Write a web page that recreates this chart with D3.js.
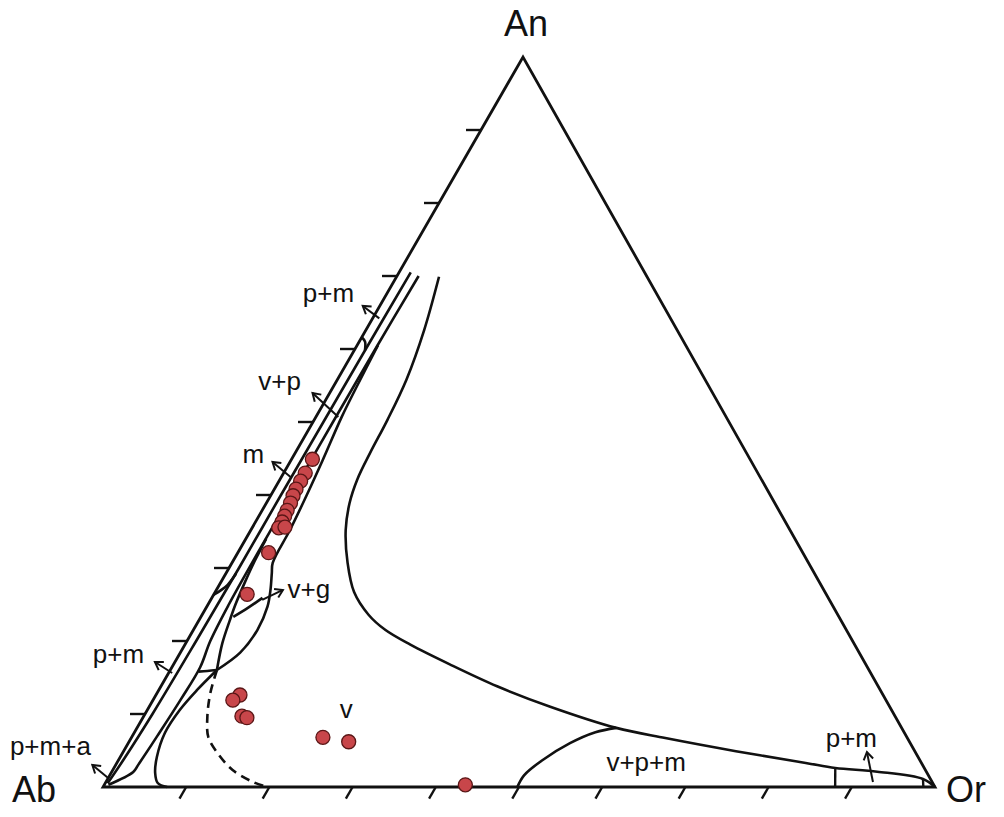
<!DOCTYPE html>
<html lang="en">
<head>
<meta charset="UTF-8">
<title>An-Ab-Or</title>
<style>
  body { margin: 0; background: #fff; }
  svg text { font-family: "Liberation Sans", Arial, sans-serif; fill: #111; }
</style>
</head>
<body>
<svg></svg>
<script src="https://d3js.org/d3.v7.min.js"></script>
<script>
// end members and tick values (mol %)
const corners = ["Ab", "Or", "An"];
const tickValues = [10, 20, 30, 40, 50, 60, 70, 80, 90];

// feldspar analyses as [An, Or]
const samples = [
  [44.9, 2.5], [43.0, 2.6], [41.9, 2.6], [40.8, 2.6], [39.9, 2.7], [38.9, 2.9],
  [37.9, 3.0], [37.1, 3.1], [36.3, 3.2], [35.5, 3.2], [35.6, 3.9], [32.1, 3.7],
  [26.4, 4.0], [12.6, 10.1], [11.9, 9.6], [9.7, 11.8], [9.5, 12.5],
  [6.8, 23.0], [6.2, 26.4], [0.3, 43.4]
];

// field boundaries as [An, Or]
const solvus = [
  [69.9, 5.1], [62.6, 7.0], [55.8, 8.3], [50.3, 8.8], [45.8, 9.0], [42.1, 9.3],
  [38.9, 10.0], [35.2, 11.4], [30.7, 13.9], [26.7, 16.7], [23.6, 20.0], [21.5, 23.1],
  [19.5, 27.1], [16.8, 33.2], [13.8, 40.4], [11.0, 48.2], [8.1, 57.6], [6.7, 64.2],
  [4.9, 73.6], [3.3, 82.8], [2.6, 86.7], [2.1, 92.0], [1.1, 98.0], [0, 100]
];
const vpmLine = [[0, 49.8], [1.6, 49.8], [3.6, 50.9], [6.0, 53.1], [7.5, 55.4], [8.1, 57.6]];
const orSide1 = [[2.6, 86.7], [0, 88.0]];
const orSide2 = [[1.1, 98.0], [0, 98.6]];

const plagLine1 = [[70.5, 1.4], [60, 1.3], [50, 1.25], [40, 1.2], [30, 1.2], [20, 1.1], [10, 0.9], [4, 0.6], [0.5, 0.3]];
const plagLine2 = [[70, 2.6], [60, 2.45], [50, 2.4], [40, 2.4], [33, 2.4], [25, 2.5], [20, 2.8], [16.4, 3.4],
  [12, 3.3], [7, 3.0], [3, 2.7], [2.05, 2.6], [0.3, 0.5]];
const meltLine = [[60.5, 2.5], [55, 2.8], [50.7, 3.1], [44.8, 3.8], [40, 4.3], [35.2, 4.7], [30.7, 4.9],
  [29.3, 5.5], [27, 6.5], [24.7, 7.3], [21.5, 7.7], [18.4, 7.2], [16.03, 5.6]];
const lensLeft = [[16.03, 5.6], [19.7, 4.4], [22.9, 3.7], [25, 3.3], [28, 2.9], [31, 2.6], [34, 2.45]];
const lensWedge = [[23.3, 3.9], [24.5, 5.0], [25.9, 6.1]];
const joinLine = [[16.03, 5.6], [15.9, 4.5], [15.8, 3.5]];
const arcLow = [[26.3, 0], [27.0, 0.6], [27.7, 1.0], [29.2, 1.25]];
const arcHigh = [[61.6, 0], [61.0, 0.7], [59.8, 1.3]];
const vapourLine = [[16.03, 5.6], [13.29, 4.6], [10.55, 3.9], [7.4, 3.7], [4.11, 4.4], [1.92, 5.3], [0.55, 6.3], [0, 7.7]];
const dashedLine = [[16.03, 5.6], [12.88, 6.4], [9.59, 7.7], [6.85, 9.2], [4.66, 11.4], [2.33, 14.4], [0.68, 17.7], [0, 19.7]];

// direction arrows [tail, head]
const arrows = [
  [[64.2, 0.8], [65.9, -2.05]],
  [[50.68, 2.7], [53.97, -2.06]],
  [[42.47, 1.1], [44.52, -2.1]],
  [[25.62, 6.2], [26.99, 8.0]],
  [[15.62, 0.43], [17.12, -2.4]],
  [[1.23, 0], [3.01, -2.8]],
  [[0.68, 92.2], [4.79, 89.4]]
];

const width = 1004, height = 817;

const svg = d3.select('svg')
  .attr('width', width)
  .attr('height', height);

// ternary projection: Or runs along the base, An lifts toward the apex
const xOr = d3.scaleLinear().domain([0, 100]).range([103, 935]);
const xShift = d3.scaleLinear().domain([0, 100]).range([0, 420]);
const yAn = d3.scaleLinear().domain([0, 100]).range([787, 57]);
const proj = d => [xOr(d[1]) + xShift(d[0]), yAn(d[0])];

const smooth = d3.line().x(d => proj(d)[0]).y(d => proj(d)[1]).curve(d3.curveCatmullRom.alpha(0.5));
const straight = d3.line().x(d => proj(d)[0]).y(d => proj(d)[1]);

svg.append('defs').append('marker')
  .attr('id', 'head')
  .attr('viewBox', '-10 -6 12 12')
  .attr('markerWidth', 12).attr('markerHeight', 12)
  .attr('markerUnits', 'userSpaceOnUse')
  .attr('orient', 'auto')
  .append('path')
  .attr('d', 'M-7.5,-4.8 L0,0 L-7.5,4.8')
  .attr('fill', 'none')
  .attr('stroke', '#111')
  .attr('stroke-width', 2);

// triangle
const vertex = { Ab: [0, 0], Or: [0, 100], An: [100, 0] };
svg.append('path')
  .attr('d', straight(corners.map(c => vertex[c])) + 'Z')
  .attr('fill', 'none')
  .attr('stroke', '#111')
  .attr('stroke-width', 2.8)
  .attr('stroke-linejoin', 'miter');

// ticks on the Ab-An side and the Ab-Or side
svg.selectAll('.tickL')
  .data(tickValues)
  .enter().append('path')
  .attr('d', v => straight([[v, 0], [v, -1.8]]))
  .attr('stroke', '#111').attr('stroke-width', 2.4);

svg.selectAll('.tickB')
  .data(tickValues)
  .enter().append('path')
  .attr('d', v => straight([[0, v], [-1.6, v]]))
  .attr('stroke', '#111').attr('stroke-width', 2.4);

const boundaries = [solvus, vpmLine, plagLine1, plagLine2, meltLine, lensLeft, lensWedge,
  joinLine, arcLow, arcHigh, vapourLine];
svg.selectAll('.boundary')
  .data(boundaries)
  .enter().append('path')
  .attr('d', smooth)
  .attr('fill', 'none')
  .attr('stroke', '#111')
  .attr('stroke-width', 2.6);

svg.selectAll('.side')
  .data([orSide1, orSide2])
  .enter().append('path')
  .attr('d', straight)
  .attr('fill', 'none')
  .attr('stroke', '#111')
  .attr('stroke-width', 2.4);

svg.append('path')
  .attr('d', smooth(dashedLine))
  .attr('fill', 'none')
  .attr('stroke', '#111')
  .attr('stroke-width', 2.6)
  .attr('stroke-dasharray', '9,6');

svg.selectAll('.arrow')
  .data(arrows)
  .enter().append('path')
  .attr('d', straight)
  .attr('stroke', '#111')
  .attr('stroke-width', 2)
  .attr('marker-end', 'url(#head)');

svg.selectAll('.sample')
  .data(samples)
  .enter().append('circle')
  .attr('cx', d => proj(d)[0])
  .attr('cy', d => proj(d)[1])
  .attr('r', 7)
  .attr('fill', '#c8464a')
  .attr('stroke', '#5a1616')
  .attr('stroke-width', 1.3);

// field labels
function annotate(text, an, or) {
  const p = proj([an, or]);
  svg.append('text')
    .attr('x', p[0]).attr('y', p[1])
    .attr('font-size', 26)
    .text(text);
}
annotate('p+m', 66.4, -9.5);
annotate('v+p', 54.4, -8.8);
annotate('m', 44.4, -5.65);
annotate('v+g', 25.9, 9.1);
annotate('p+m', 17.0, -9.8);
annotate('p+m+a', 4.38, -13.4);
annotate('v', 9.45, 23.7);
annotate('v+p+m', 2.19, 59.4);
annotate('p+m', 5.48, 84.1);

// corner labels
const cornerText = { Ab: [-47, 15, 'end'], Or: [11, 15, 'start'], An: [3, -21, 'middle'] };
svg.selectAll('.corner')
  .data(corners)
  .enter().append('text')
  .attr('x', c => proj(vertex[c])[0] + cornerText[c][0])
  .attr('y', c => proj(vertex[c])[1] + cornerText[c][1])
  .attr('text-anchor', c => cornerText[c][2])
  .attr('font-size', 36)
  .text(c => c);
</script>
</body>
</html>
